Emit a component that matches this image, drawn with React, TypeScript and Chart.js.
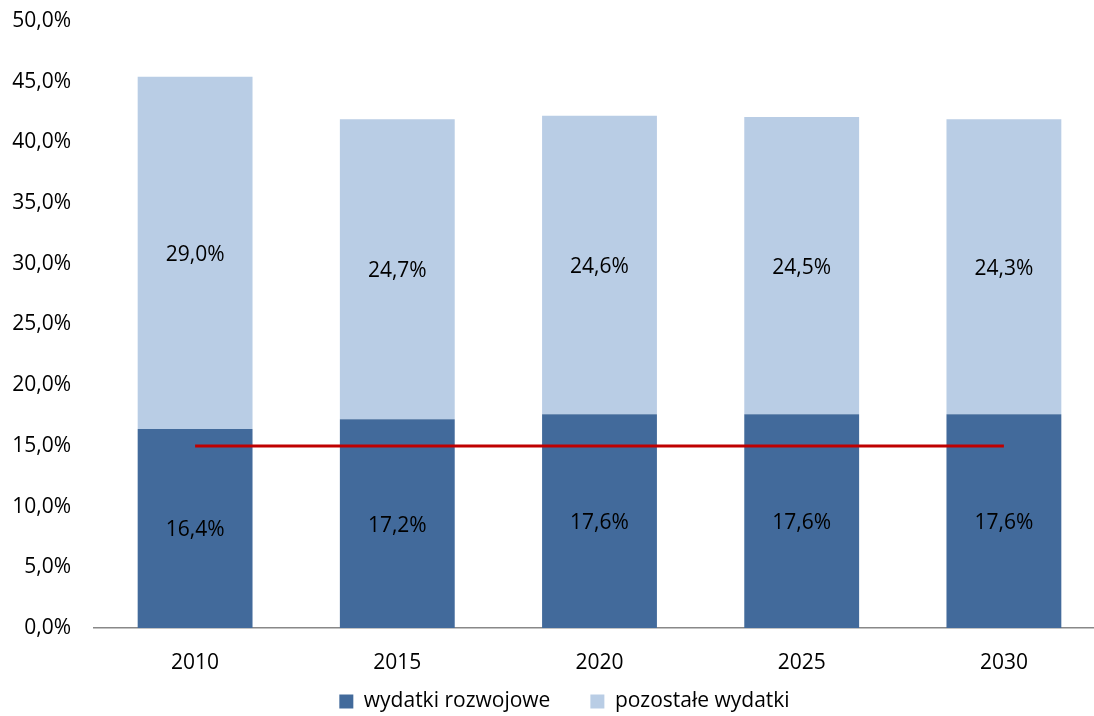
import React, { useEffect, useRef } from "react";
import { Chart, registerables } from "chart.js";

Chart.register(...registerables);

const categories = ["2010", "2015", "2020", "2025", "2030"];
const developmentSpending = [16.4, 17.2, 17.6, 17.6, 17.6];
const otherSpending = [29.0, 24.7, 24.6, 24.5, 24.3];
const thresholdLine = [15, 15, 15, 15, 15];
const seriesNames = ["wydatki rozwojowe", "pozostałe wydatki"];

const FONT = "'Open Sans', 'Noto Sans', sans-serif";
const FS = 21;
const fmt = (v: number) => v.toFixed(1).replace(".", ",") + "%";

const barLabels = {
  id: "barLabels",
  afterDatasetsDraw(chart: any) {
    const ctx = chart.ctx;
    ctx.save();
    ctx.font = `${FS}px ${FONT}`;
    ctx.fillStyle = "#000";
    ctx.textAlign = "center";
    ctx.textBaseline = "middle";
    chart.data.datasets.forEach((ds: any, i: number) => {
      if (ds.type === "line") return;
      const meta = chart.getDatasetMeta(i);
      meta.data.forEach((el: any, j: number) => {
        const p = el.getCenterPoint();
        ctx.fillText(fmt(ds.data[j]), p.x, p.y + 2);
      });
    });
    ctx.restore();
  },
};

const legendShift = {
  id: "legendShift",
  afterLayout(chart: any) {
    if (chart.legend) {
      chart.legend.left += 12;
      chart.legend.right += 12;
      chart.legend.top -= 20;
      chart.legend.bottom -= 20;
    }
  },
};

export default function App() {
  const ref = useRef<HTMLCanvasElement>(null);
  useEffect(() => {
    const chart = new Chart(ref.current!, {
      type: "bar",
      data: {
        labels: categories,
        datasets: [
          {
            type: "line",
            label: "próg",
            data: thresholdLine,
            borderColor: "#C00000",
            borderWidth: 3,
            pointRadius: 0,
            stack: "line",
            order: 0,
          } as any,
          {
            label: seriesNames[0],
            data: developmentSpending,
            backgroundColor: "#426A9B",
            stack: "bars",
            barPercentage: 0.568,
            categoryPercentage: 1,
            order: 1,
          },
          {
            label: seriesNames[1],
            data: otherSpending,
            backgroundColor: "#B9CDE5",
            stack: "bars",
            barPercentage: 0.568,
            categoryPercentage: 1,
            order: 1,
          },
        ],
      },
      options: {
        responsive: false,
        animation: false,
        layout: { padding: { top: 21, left: 0, right: 0, bottom: -26 } },
        plugins: {
          tooltip: { enabled: false },
          legend: {
            position: "bottom",
            labels: {
              font: { family: FONT, size: FS },
              color: "#000",
              boxWidth: 14,
              boxHeight: 14,
              padding: 40,
              filter: (item: any) => item.text !== "próg",
            },
          },
        },
        scales: {
          x: {
            stacked: true,
            grid: { display: false, drawTicks: false },
            border: { color: "#888", width: 1.5 },
            ticks: { font: { family: FONT, size: FS }, color: "#000", padding: 22 },
            afterFit: (s: any) => {
              s.height = 43;
              s.paddingLeft = 0;
              s.paddingRight = 0;
            },
          },
          y: {
            stacked: true,
            min: 0,
            max: 50,
            grid: { display: false, drawTicks: false },
            border: { display: false },
            ticks: {
              stepSize: 5,
              font: { family: FONT, size: FS },
              color: "#000",
              padding: 23,
              callback: (v: any) => fmt(Number(v)),
            },
            afterFit: (s: any) => {
              s.width = 94;
              s.paddingTop = 0;
              s.paddingBottom = 0;
            },
          },
        },
      },
      plugins: [barLabels, legendShift],
    });
    return () => chart.destroy();
  }, []);
  return (
    <div style={{ position: "fixed", left: 0, top: 0, width: 1094, height: 716, overflow: "hidden", background: "#fff" }}>
      <canvas ref={ref} width={1105} height={716} style={{ width: 1105, height: 716, display: "block" }} />
    </div>
  );
}
